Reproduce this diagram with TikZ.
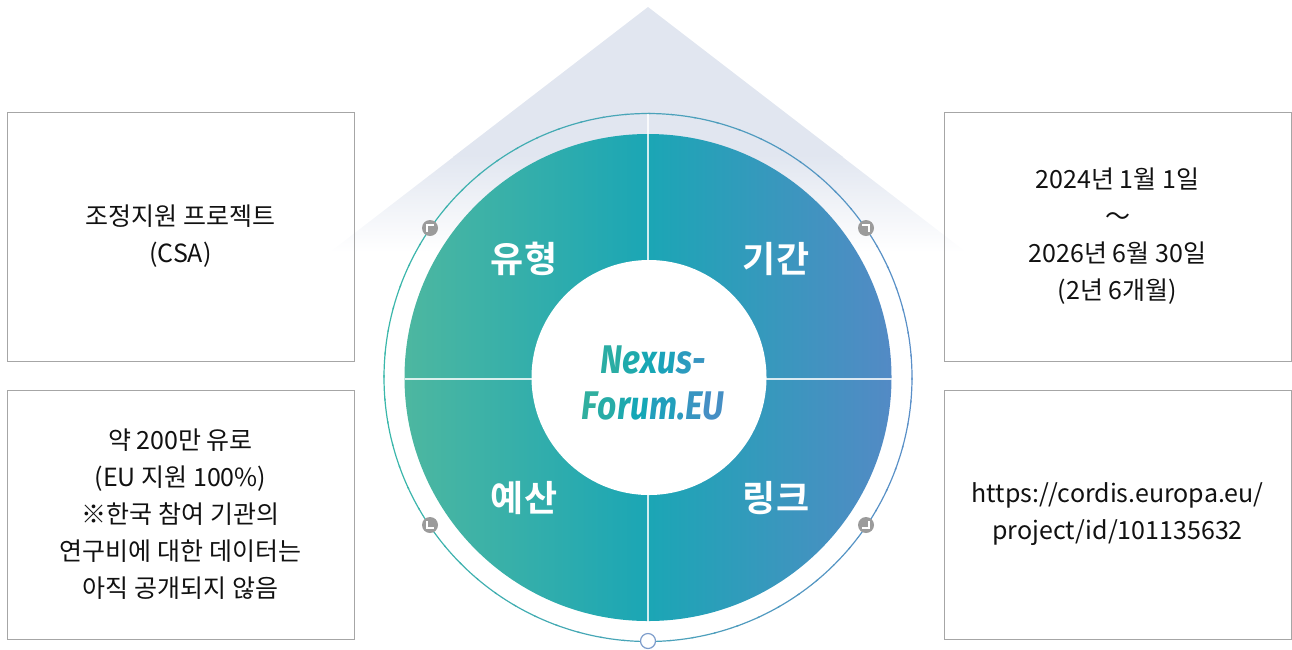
\documentclass[tikz,border=0pt]{standalone}
\usepackage{fontspec}
\usepackage{tikz}
\usetikzlibrary{positioning}
\newfontfamily\kr{Noto Sans CJK KR}[BoldFont={Noto Sans CJK KR Bold}]
\newfontfamily\nexfont{Fira Sans}[FakeStretch=0.84]
\definecolor{triC}{HTML}{E1E6F0}
\definecolor{discL}{HTML}{4DB7A0}
\definecolor{discM}{HTML}{1BA6B5}
\definecolor{discR}{HTML}{538AC5}
\definecolor{ringL}{HTML}{3AB7AA}
\definecolor{ringR}{HTML}{5A8FC8}
\definecolor{knobC}{HTML}{9B9B9B}
\definecolor{dotC}{HTML}{7C9CCB}
\definecolor{boxC}{HTML}{A6A6A6}
\definecolor{txtC}{HTML}{111111}
\definecolor{nexL}{HTML}{34B09C}
\definecolor{nexM}{HTML}{12A6B8}
\definecolor{nexR}{HTML}{4C8CC6}
\newcommand{\nx}[2]{\textcolor{#1}{#2}}

\begin{document}
\begin{tikzpicture}[x=1pt,y=-1pt,
    infobox/.style={draw=boxC, line width=1pt, minimum width=347pt, minimum height=249pt,
      align=center, text=txtC, font=\kr\fontsize{25}{37}\selectfont},
    quadlabel/.style={text=white, font=\kr\bfseries\fontsize{36}{36}\selectfont},
    knob/.style={circle, fill=knobC, minimum size=16pt, inner sep=0pt}]
        \useasboundingbox (0,0) rectangle (1292,649);

        % faded roof behind the wheel
        \fill[triC] (648,7) -- (843,157) -- (453,157) -- cycle;
        \shade[top color=triC, bottom color=white] (456,155) -- (840,155) -- (966,252) -- (330,252) -- cycle;

        \coordinate (hub) at (648,377.5);

        % thin outer ring
        \foreach \a in {0,5,...,355}{
            \pgfmathtruncatemacro\w{50+50*cos(\a+2.5)}
            \draw[ringR!\w!ringL, line width=1.2pt] (hub) ++(\a:264) arc[start angle=\a, end angle=\a+5.5, radius=264];
        }

        % wheel
        \shade[left color=discL, right color=discR, middle color=discM] (hub) circle[radius=243.5];
        \draw[white, line width=1.5pt, opacity=0.8] (hub) ++(0,-264) -- ++(0,528);
        \draw[white, line width=1.5pt, opacity=0.8] (hub) ++(-243.5,1.5) -- ++(487,0);
        \fill[white] (hub) ++(1,0) circle[radius=117.5];

        % knobs on the ring
        \node[knob] (kUL) at (430,228) {};
        \node[knob] (kUR) at (866,228) {};
        \node[knob] (kLL) at (430,525) {};
        \node[knob] (kLR) at (866,525) {};
        \draw[white, line width=2pt] ([shift={(4,-3)}]kUL.center) -- ++(-7,0) -- ++(0,7);
        \draw[white, line width=2pt] ([shift={(-4,-3)}]kUR.center) -- ++(7,0) -- ++(0,7);
        \draw[white, line width=2pt] ([shift={(-3,-4)}]kLL.center) -- ++(0,7) -- ++(7,0);
        \draw[white, line width=2pt] ([shift={(3,-4)}]kLR.center) -- ++(0,7) -- ++(-7,0);
        \node[circle, draw=dotC, fill=white, line width=1.2pt, minimum size=15pt, inner sep=0pt] (base) at (648,641) {};

        % quadrant labels
        \node[quadlabel] (kind) at (524,259) {유형};
        \node[quadlabel] (period) at (776,259) {기간};
        \node[quadlabel] (budget) at (524,498) {예산};
        \node[quadlabel] (link) at (776,498) {링크};

        \node[align=center, font=\nexfont\bfseries\itshape\fontsize{40}{46}\selectfont] (title) at (653,383)
            {\nx{nexM!30!nexL}{N}\nx{nexM!58!nexL}{e}\nx{nexM!86!nexL}{x}\nx{nexR!16!nexM}{u}\nx{nexR!44!nexM}{s}\nx{nexR!64!nexM}{-}\\
             \nx{nexM!12!nexL}{F}\nx{nexM!40!nexL}{o}\nx{nexM!66!nexL}{r}\nx{nexM!92!nexL}{u}\nx{nexR!26!nexM}{m}\nx{nexR!48!nexM}{.}\nx{nexR!64!nexM}{E}\nx{nexR!88!nexM}{U}};

        % info boxes
        \node[infobox] (kindbox) at (180.5,236.5) {조정지원 프로젝트\\(CSA)};
        \node[infobox] (budgetbox) at (180.5,514.5) {약 200만 유로\\(EU 지원 100\%)\\※한국 참여 기관의\\연구비에 대한 데이터는\\아직 공개되지 않음};
        \node[infobox] (periodbox) at (1117.5,236.5) {2024년 1월 1일\\～\\2026년 6월 30일\\(2년 6개월)};
        \node[infobox] (linkbox) at (1117.5,514.5) {https://cordis.europa.eu/\\project/id/101135632};
\end{tikzpicture}
\end{document}
